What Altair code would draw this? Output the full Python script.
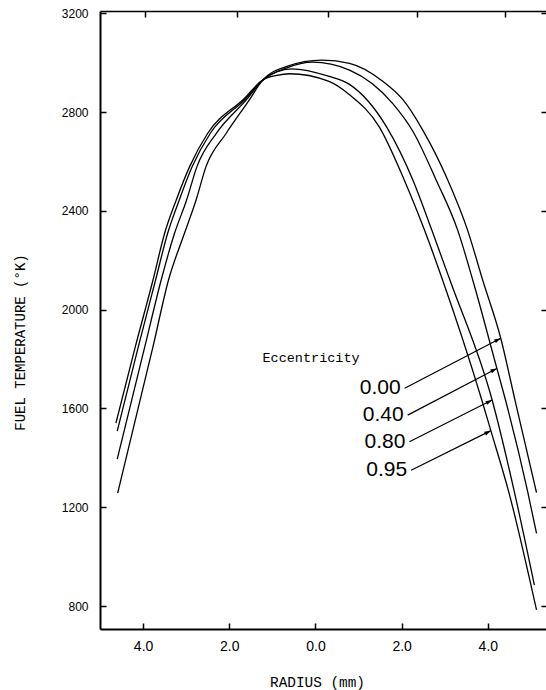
import altair as alt
import pandas as pd

# ---------------- data ----------------
ecc = ["0.00", "0.40", "0.80", "0.95"]

a_r = [-4.59, -3.77, -3.41, -3.04, -2.77, -2.54, -2.07, -1.55, -1.22, -0.68, 0.16, 0.79, 1.56, 2.03, 2.49, 3.07, 3.53, 3.88, 4.30, 4.63, 5.13]
a_t = [1257, 1850, 2120, 2309, 2444, 2579, 2714, 2845, 2930, 2984, 3010, 2997, 2925, 2850, 2727, 2525, 2322, 2120, 1884, 1634, 1259]

b_r = [-4.60, -3.96, -3.58, -3.27, -2.99, -2.75, -2.30, -1.60, -1.22, -0.68, -0.07, 0.79, 1.79, 2.26, 2.80, 3.30, 3.65, 4.21, 4.41, 4.93, 5.13]
b_t = [1395, 1850, 2120, 2309, 2444, 2579, 2714, 2850, 2930, 2978, 3002, 2970, 2835, 2722, 2525, 2322, 2120, 1762, 1634, 1259, 1094]

c_r = [-4.60, -4.11, -3.71, -3.43, -3.16, -2.86, -2.44, -1.63, -1.22, -0.90, -0.55, 0.30, 0.79, 1.65, 2.26, 2.70, 3.12, 4.10, 4.62, 5.08]
c_t = [1508, 1850, 2120, 2309, 2444, 2579, 2714, 2852, 2929, 2962, 2975, 2945, 2912, 2740, 2525, 2322, 2120, 1634, 1259, 885]

d_r = [-4.63, -4.18, -3.77, -3.50, -3.23, -2.92, -2.50, -1.65, -1.22, -0.90, -0.60, 0.30, 0.79, 1.48, 2.06, 2.53, 2.95, 3.86, 4.07, 4.49, 5.13]
d_t = [1541, 1850, 2120, 2309, 2444, 2579, 2714, 2855, 2930, 2948, 2955, 2925, 2870, 2740, 2525, 2322, 2120, 1634, 1510, 1259, 784]

# arrows: label end -> tip on curve
arrow_r0 = [2.07, 2.14, 2.18, 2.22]
arrow_t0 = [1682, 1573, 1465, 1350]
arrow_r1 = [4.30, 4.21, 4.10, 4.07]
arrow_t1 = [1884, 1762, 1634, 1510]

x_ticks = [-4, -2, 0, 2, 4]
x_ticks_top = [-3.96, -1.83, 0.28, 2.36, 4.40]
y_ticks = [800, 1200, 1600, 2000, 2400, 2800, 3200]

legend_title = "Eccentricity"
legend_title_r = -1.23
legend_title_t = 1804

# ---------------- tables ----------------
rows = []
for name, rs, ts in zip(ecc, [a_r, b_r, c_r, d_r], [a_t, b_t, c_t, d_t]):
    for i, (r, t) in enumerate(zip(rs, ts)):
        rows.append({"ecc": name, "r": r, "t": t, "i": i})
curves = pd.DataFrame(rows)

arrows = pd.DataFrame({"ecc": ecc, "x0": arrow_r0, "t0": arrow_t0, "x1": arrow_r1, "t1": arrow_t1})
title_df = pd.DataFrame({"x": [legend_title_r], "t": [legend_title_t], "txt": [legend_title]})

X = alt.Scale(domain=[-5.0, 5.35], nice=False, zero=False)
Y = alt.Scale(domain=[707, 3209], nice=False, zero=False)

SANS = "Liberation Sans, Arial, sans-serif"
MONO = "Liberation Mono, DejaVu Sans Mono, monospace"

axis_bottom_main = alt.Axis(
    orient="bottom", values=x_ticks, labelExpr="format(abs(datum.value), '.1f')",
    domain=True, domainColor="black", domainWidth=2, ticks=False, tickSize=0,
    labelPadding=10, labelFont=SANS, labelFontSize=14, labelColor="black",
    labelFlush=False, grid=False,
    title="RADIUS (mm)", titleFont=MONO, titleFontSize=14.4, titleFontWeight="normal",
    titleColor="black", titleX=217, titleY=53, titleBaseline="middle", titleAlign="center",
)
axis_left_main = alt.Axis(
    orient="left", values=y_ticks, format="d",
    domain=True, domainColor="black", domainWidth=2, ticks=False, tickSize=0,
    labelPadding=12, labelFont=SANS, labelFontSize=12, labelColor="black", grid=False,
    title="FUEL TEMPERATURE (°K)", titleFont=MONO, titleFontSize=14, titleFontWeight="normal",
    titleColor="black", titleX=-80, titleY=331, titleAngle=270, titleAlign="center",
    titleBaseline="middle",
)
ticks_bottom = alt.Axis(orient="bottom", values=x_ticks, offset=-6, domain=False, ticks=True,
                        tickSize=6, tickWidth=1.5, tickColor="black", labels=False, title=None, grid=False)
ticks_left = alt.Axis(orient="left", values=y_ticks, offset=-6, domain=False, ticks=True,
                      tickSize=6, tickWidth=1.5, tickColor="black", labels=False, title=None, grid=False)
top_domain = alt.Axis(orient="top", domain=True, domainColor="black", domainWidth=1.5, ticks=False,
                      labels=False, title=None, grid=False)
ticks_right = alt.Axis(orient="right", values=y_ticks, offset=-5, domain=False, ticks=True,
                       tickSize=5, tickWidth=1.5, tickColor="black", labels=False, title=None, grid=False)
ticks_top = alt.Axis(orient="top", values=x_ticks_top, offset=-6, domain=False, ticks=True,
                     tickSize=6, tickWidth=1.5, tickColor="black", labels=False, title=None, grid=False)

lines = alt.Chart(curves).mark_line(color="black", strokeWidth=1.3, interpolate="monotone").encode(
    x=alt.X("r:Q", scale=X, axis=axis_bottom_main),
    y=alt.Y("t:Q", scale=Y, axis=axis_left_main),
    detail="ecc:N",
    order="i:Q",
)

arrow_lines = alt.Chart(arrows).mark_rule(color="black", strokeWidth=1.2).encode(
    x=alt.X("x0:Q", scale=X, axis=ticks_bottom),
    y=alt.Y("t0:Q", scale=Y, axis=ticks_left),
    x2="x1:Q",
    y2="t1:Q",
)

arrow_heads = alt.Chart(arrows).mark_point(
    shape="M0,0L0.32,1L-0.32,1Z", filled=True, size=170, color="black", opacity=1, angle=63, strokeWidth=0
).encode(
    x=alt.X("x1:Q", scale=X, axis=top_domain),
    y=alt.Y("t1:Q", scale=Y, axis=ticks_right),
)

labels = alt.Chart(arrows).mark_text(
    align="right", baseline="middle", dx=-4, font=SANS, fontSize=21, color="black"
).encode(
    x=alt.X("x0:Q", scale=X, axis=ticks_top),
    y=alt.Y("t0:Q", scale=Y, axis=None),
    text="ecc:N",
)

ecc_title = alt.Chart(title_df).mark_text(
    align="left", baseline="middle", font=MONO, fontSize=13.5, color="black"
).encode(
    x=alt.X("x:Q", scale=X, axis=None),
    y=alt.Y("t:Q", scale=Y, axis=None),
    text="txt:N",
)

chart = alt.layer(lines, arrow_lines, arrow_heads, labels, ecc_title).resolve_axis(
    x="independent", y="independent"
).properties(
    width=446, height=618,
    autosize=alt.AutoSizeParams(type="none"),
    padding={"left": 100, "top": 11, "right": 0, "bottom": 61},
    background="white",
).configure_view(stroke=None)

chart.save("out.html", embed_options={"renderer": "svg", "actions": False})
